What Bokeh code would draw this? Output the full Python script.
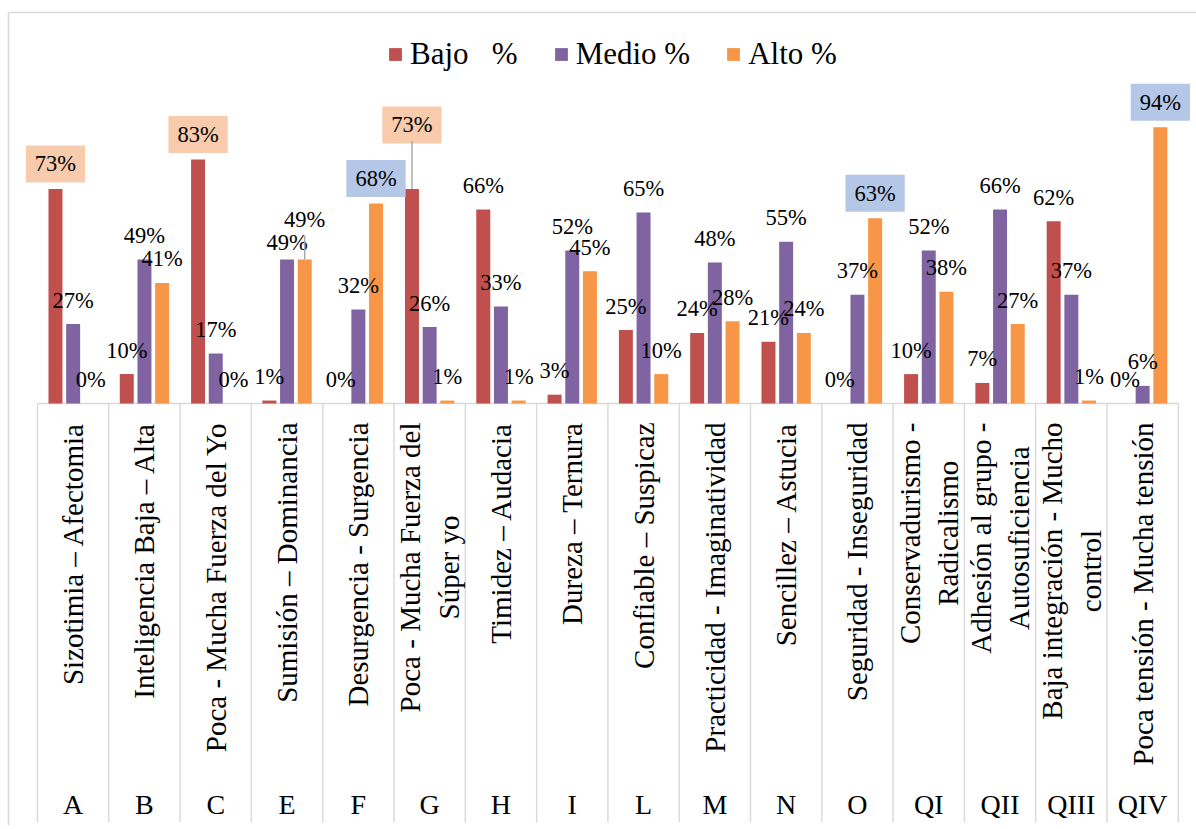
import math
from bokeh.plotting import figure
from bokeh.models import ColumnDataSource, Legend, LegendItem, Range1d
from bokeh.transform import dodge
from bokeh.core.properties import value
from bokeh.embed import file_html
from bokeh.resources import INLINE

# ---------------- data ----------------
codes = ["A", "B", "C", "E", "F", "G", "H", "I", "L", "M", "N", "O",
         "QI", "QII", "QIII", "QIV"]
descriptions = [
    "Sizotimia \u2013 Afectomia",
    "Inteligencia Baja \u2013 Alta",
    "Poca - Mucha Fuerza del Yo",
    "Sumisi\u00f3n \u2013 Dominancia",
    "Desurgencia - Surgencia",
    "Poca - Mucha Fuerza del\nS\u00faper yo",
    "Timidez \u2013 Audacia",
    "Dureza \u2013 Ternura",
    "Confiable \u2013 Suspicaz",
    "Practicidad - Imaginatividad",
    "Sencillez \u2013 Astucia",
    "Seguridad - Inseguridad",
    "Conservadurismo -\nRadicalismo",
    "Adhesi\u00f3n al grupo -\nAutosuficiencia",
    "Baja integraci\u00f3n - Mucho\ncontrol",
    "Poca tensi\u00f3n - Mucha tensi\u00f3n",
]
bajo = [73, 10, 83, 1, 0, 73, 66, 3, 25, 24, 21, 0, 10, 7, 62, 0]
medio = [27, 49, 17, 49, 32, 26, 33, 52, 65, 48, 55, 37, 52, 66, 37, 6]
alto = [0, 41, 0, 49, 68, 1, 1, 45, 10, 28, 24, 63, 38, 27, 1, 94]
series_names = ["Bajo   %", "Medio %", "Alto %"]

# ---------------- styling / layout ----------------
colors = ["#C0504D", "#8064A2", "#F79646"]
PEACH, BLUE = "#F8CBAD", "#B4C7E7"
highlight = {("A", 0): PEACH, ("C", 0): PEACH, ("G", 0): PEACH,
             ("F", 2): BLUE, ("O", 2): BLUE, ("QIV", 2): BLUE}
lift_override = {("E", 2): 40, ("E", 1): 16.5, ("G", 0): 64}
leaders = [("E", 2), ("G", 0)]

W, H = 1196, 825
CAT_PX = 71.3          # pixels per category
PCT_PX = 2.94          # pixels per percentage point
LEFT_PX = 37           # frame-left to first category boundary
BASE_PX = 403          # frame-top to zero line
xs = -0.5 - LEFT_PX / CAT_PX
xe = xs + W / CAT_PX
ye = BASE_PX / PCT_PX
ys = ye - H / PCT_PX

offsets = [-0.248, 0.0, 0.248]
bar_w = 0.196
FONT = "Liberation Serif"
GRID = "#D9D9D9"

p = figure(width=W, height=H, x_range=Range1d(xs, xe), y_range=Range1d(ys, ye),
           output_backend="svg", toolbar_location=None,
           x_axis_type=None, y_axis_type=None, min_border=0,
           outline_line_color=None, background_fill_color="white",
           border_fill_color="white")
p.grid.visible = False

idx = list(range(len(codes)))
src = ColumnDataSource(dict(idx=idx, code=codes, desc=descriptions,
                            bajo=bajo, medio=medio, alto=alto))

# chart border (top & left visible in crop)
ytop = ye - 12 / PCT_PX
xl = xs + 8 / CAT_PX
p.segment(x0=[xl], y0=[ytop], x1=[xe], y1=[ytop], line_color=GRID, line_width=1.6)
p.segment(x0=[xl], y0=[ytop], x1=[xl], y1=[ys], line_color=GRID, line_width=1.6)

# category separators and baseline
ybot = -419 / PCT_PX
bounds = [i - 0.5 for i in range(len(codes) + 1)]
p.segment(x0=bounds, y0=[0] * len(bounds), x1=bounds, y1=[ybot] * len(bounds),
          line_color=GRID, line_width=1.4)
p.segment(x0=[-0.5], y0=[0], x1=[len(codes) - 0.5], y1=[0],
          line_color=GRID, line_width=1.4)

# bars
cols = ["bajo", "medio", "alto"]
renderers = []
for k, col in enumerate(cols):
    r = p.vbar(x=dodge("idx", offsets[k], range=p.x_range), top=col, width=bar_w,
               source=src, fill_color=colors[k], line_color=None)
    renderers.append(r)

# data labels
series_vals = [bajo, medio, alto]
for k in range(3):
    plain = dict(idx=[], val=[], txt=[], dy=[])
    boxed = dict(idx=[], val=[], txt=[], dy=[], bg=[])
    for i, c in enumerate(codes):
        v = series_vals[k][i]
        lift = lift_override.get((c, k), 25 if (c, k) in highlight else 24)
        if (c, k) in highlight:
            d = boxed
            d["bg"].append(highlight[(c, k)])
        else:
            d = plain
        d["idx"].append(i)
        d["val"].append(v)
        d["txt"].append(f"{v}%")
        d["dy"].append(-lift)
    p.text(x=dodge("idx", offsets[k], range=p.x_range), y="val", text="txt",
           y_offset="dy", source=ColumnDataSource(plain),
           text_font=value(FONT), text_font_size="22.5px", text_color="black",
           text_align="center", text_baseline="middle")
    if boxed["idx"]:
        p.text(x=dodge("idx", offsets[k], range=p.x_range), y="val", text="txt",
               y_offset="dy", source=ColumnDataSource(boxed),
               text_font=value(FONT), text_font_size="22.5px", text_color="black",
               text_align="center", text_baseline="middle",
               background_fill_color="bg", padding=dict(x=9, y=6))

# leader lines
lx, ly0, ly1 = [], [], []
for c, k in leaders:
    i = codes.index(c)
    v = series_vals[k][i]
    lx.append(i + offsets[k])
    ly0.append(v)
    ly1.append(v + (lift_override[(c, k)] - 16) / PCT_PX)
p.segment(x0=lx, y0=ly0, x1=lx, y1=ly1, line_color="#A6A6A6", line_width=1.4)

# category labels (two levels)
p.text(x="idx", y=-19 / PCT_PX, text="desc", source=src, angle=math.pi / 2,
       anchor="center_right", text_align="center", text_baseline="middle",
       text_font=value(FONT), text_font_size="29px", text_color="black")
p.text(x="idx", y=-401 / PCT_PX, text="code", source=src,
       text_align="center", text_baseline="middle",
       text_font=value(FONT), text_font_size="28px", text_color="black")

legend = Legend(items=[LegendItem(label=series_names[k], renderers=[renderers[k]])
                       for k in range(3)],
                orientation="horizontal", location=(387, 753),
                glyph_width=16, glyph_height=16, label_standoff=7, spacing=35,
                padding=0, margin=0, border_line_color=None,
                background_fill_alpha=0, label_text_font=FONT,
                label_text_font_size="31px", label_text_color="black")
p.add_layout(legend)

open("out.html", "w").write(file_html(p, INLINE))
